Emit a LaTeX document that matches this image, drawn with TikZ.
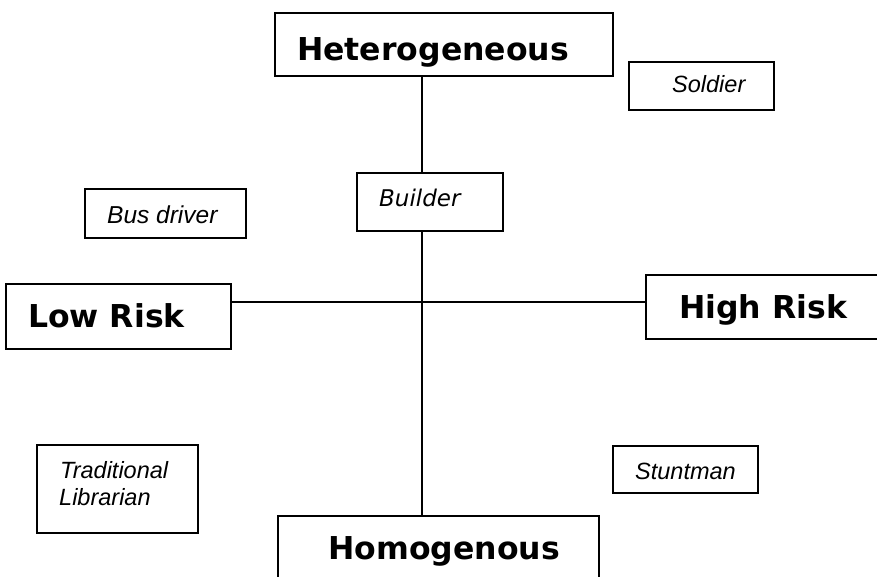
\documentclass[tikz,border=0pt]{standalone}
\usepackage{fontspec}
\newfontfamily\verd{DejaVu Sans}
\newfontfamily\arial{Liberation Sans}
\tikzset{
  box/.style={draw, line width=1.7pt, inner sep=0pt, outer sep=0pt, anchor=north west, fill=white},
  conn/.style={line width=1.6pt},
  bigtxt/.style={anchor=base west, inner sep=0pt, font=\verd\bfseries\fontsize{31.5}{38}\selectfont},
  smtxt/.style={anchor=base west, inner sep=0pt, font=\arial\itshape\fontsize{23.5}{27}\selectfont},
  vtxt/.style={anchor=base west, inner sep=0pt, font=\verd\itshape\fontsize{23}{27}\selectfont}
}
\begin{document}
\begin{tikzpicture}[x=1pt,y=-1pt]
\useasboundingbox (0,0) rectangle (877,577);
\fill[white] (0,0) rectangle (877,577);
\clip (0,0) rectangle (877,577);
\coordinate (axis) at (422,302);
% boxes
\node[box, minimum width=338pt, minimum height=63pt] (het) at (275,13) {};
\node[box, minimum width=145pt, minimum height=48pt] (soldier) at (629,62) {};
\node[box, minimum width=146pt, minimum height=58pt] (builder) at (357,173) {};
\node[box, minimum width=161pt, minimum height=49pt] (bus) at (85,189) {};
\node[box, minimum width=225pt, minimum height=65pt] (low) at (6,284) {};
\node[box, minimum width=240pt, minimum height=64pt] (high) at (646,275) {};
\node[box, minimum width=161pt, minimum height=88pt] (lib) at (37,445) {};
\node[box, minimum width=145pt, minimum height=47pt] (stunt) at (613,446) {};
\node[box, minimum width=321pt, minimum height=80pt] (homo) at (278,516) {};
% connectors
\draw[conn] (het.south -| axis) -- (builder.north -| axis);
\draw[conn] (builder.south -| axis) -- (homo.north -| axis);
\draw[conn] (low.east |- axis) -- (high.west |- axis);
% texts
\node[bigtxt] (hett) at (297,61) {Heterogeneous};
\node[bigtxt] (lowt) at (28,327) {Low Risk};
\node[bigtxt] (hight) at (679,318) {High Risk};
\node[bigtxt] (homot) at (328,559) {Homogenous};
\node[smtxt] (soldiert) at (672,93) {Soldier};
\node[smtxt, font=\arial\itshape\fontsize{24.5}{27}\selectfont] (bust) at (107,224) {Bus driver};
\node[smtxt] (stuntt) at (635,479) {Stuntman};
\node[smtxt] (libt1) at (60,478) {Traditional};
\node[smtxt] (libt2) at (59,505) {Librarian};
\node[vtxt] (buildert) at (379,207) {Builder};
\end{tikzpicture}
\end{document}
